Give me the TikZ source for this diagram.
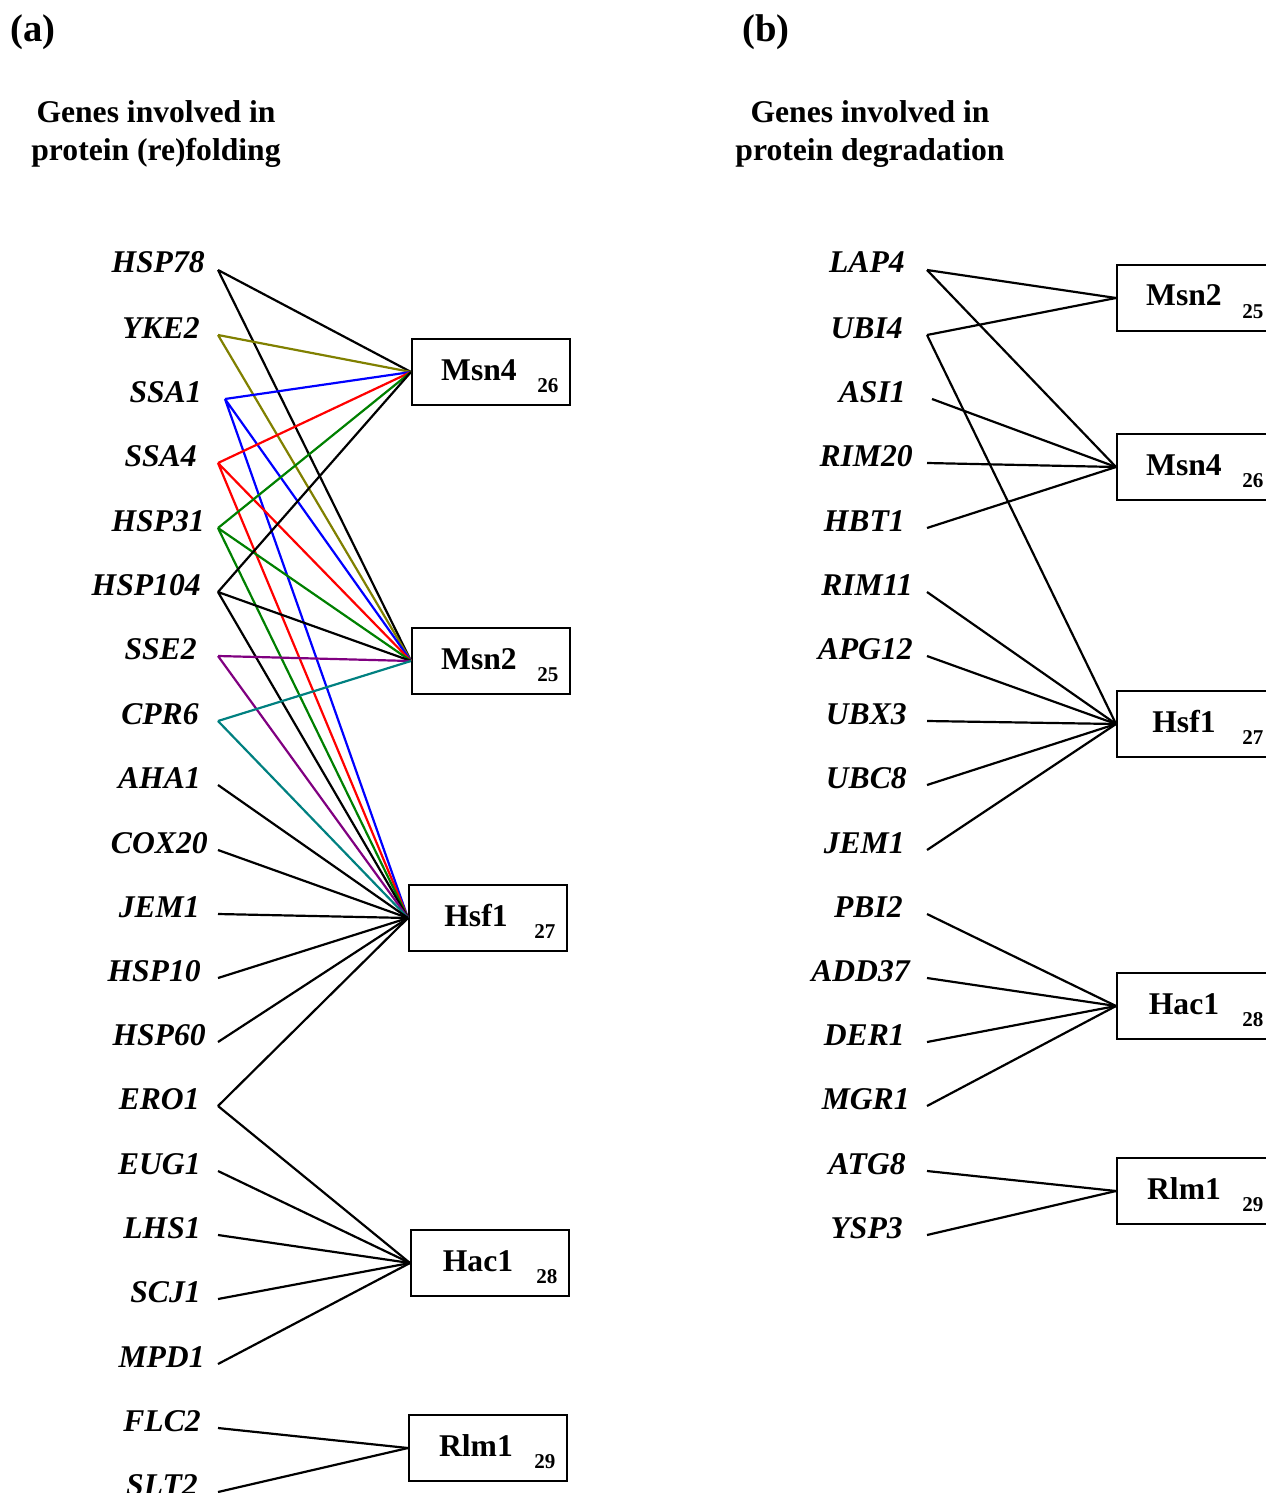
\documentclass[tikz,border=0pt]{standalone}
\usepackage{fontspec}
\setmainfont{Liberation Serif}
\usetikzlibrary{positioning}
\definecolor{lnolive}{RGB}{128,128,0}
\definecolor{lngreen}{RGB}{0,128,0}
\definecolor{lnpurple}{RGB}{128,0,128}
\definecolor{lnteal}{RGB}{0,128,128}
\tikzstyle{gene} = [font=\fontsize{18}{22}\selectfont\bfseries\itshape, inner sep=0pt]
\tikzstyle{tf} = [draw, line width=1.3pt, minimum width=3.16cm, minimum height=1.32cm, inner sep=0pt]
\tikzstyle{tfname} = [font=\fontsize{18}{22}\selectfont\bfseries, inner sep=0pt]
\tikzstyle{tfnum} = [font=\fontsize{12}{14}\selectfont\bfseries, inner sep=0pt]
\tikzstyle{heading} = [font=\fontsize{18}{22.1}\selectfont\bfseries, align=center, inner sep=0pt]
\tikzstyle{panel} = [font=\fontsize{22}{26}\selectfont\bfseries, inner sep=0pt]
\tikzstyle{link} = [line width=1.25pt]
% gene label and the point where its lines start
\newcommand{\gene}[5]{
  \node[gene, anchor=base east] (#1) at (#3,#5+11) {#2};
  \coordinate (#1-r) at (#4,#5+8);
}
% transcription factor box, given by its left middle point
\newcommand{\tfbox}[5]{
  \node[tf, anchor=west] (#1) at (#4,#5) {};
  \node[tfname, anchor=base] (#1-t) at (#4+68,#5+8) {#2};
  \node[tfnum, anchor=base west] (#1-n) at (#4+126,#5+20) {#3};
}
\begin{document}
\begin{tikzpicture}[x=0.02cm, y=-0.02cm]
  \useasboundingbox (0,0) rectangle (1265,1493);

  % (a) protein (re)folding
  \node[panel, anchor=base west] (pa) at (10,42) {(a)};
  \node[heading, anchor=base] (ha) at (156,161) {Genes involved in\\protein (re)folding};

  \gene{hsp78}{HSP78}{205}{218}{262}
  \gene{yke2}{YKE2}{200}{218}{327}
  \gene{ssa1}{SSA1}{202}{225}{391}
  \gene{ssa4}{SSA4}{197}{218}{455}
  \gene{hsp31}{HSP31}{205}{218}{520}
  \gene{hsp104}{HSP104}{201}{218}{584}
  \gene{sse2}{SSE2}{197}{218}{648}
  \gene{cpr6}{CPR6}{199}{218}{713}
  \gene{aha1}{AHA1}{201}{218}{777}
  \gene{cox20}{COX20}{208}{218}{842}
  \gene{jem1a}{JEM1}{200}{218}{906}
  \gene{hsp10}{HSP10}{201}{218}{970}
  \gene{hsp60}{HSP60}{206}{218}{1034}
  \gene{ero1}{ERO1}{200}{218}{1098}
  \gene{eug1}{EUG1}{201}{218}{1163}
  \gene{lhs1}{LHS1}{201}{218}{1227}
  \gene{scj1}{SCJ1}{201}{218}{1291}
  \gene{mpd1}{MPD1}{205}{218}{1356}
  \gene{flc2}{FLC2}{201}{218}{1420}
  \gene{slt2}{SLT2}{198}{218}{1484}

  \tfbox{msn4a}{Msn4}{26}{411}{372}
  \tfbox{msn2a}{Msn2}{25}{411}{661}
  \tfbox{hsf1a}{Hsf1}{27}{408}{918}
  \tfbox{hac1a}{Hac1}{28}{410}{1263}
  \tfbox{rlm1a}{Rlm1}{29}{408}{1448}

  \draw[link] (hsp78-r) -- (msn4a.west) (hsp78-r) -- (msn2a.west);
  \draw[link, lnolive] (yke2-r) -- (msn4a.west) (yke2-r) -- (msn2a.west);
  \draw[link, blue] (ssa1-r) -- (msn4a.west) (ssa1-r) -- (msn2a.west) (ssa1-r) -- (hsf1a.west);
  \draw[link, red] (ssa4-r) -- (msn4a.west) (ssa4-r) -- (msn2a.west) (ssa4-r) -- (hsf1a.west);
  \draw[link, lngreen] (hsp31-r) -- (msn4a.west) (hsp31-r) -- (msn2a.west) (hsp31-r) -- (hsf1a.west);
  \draw[link] (hsp104-r) -- (msn4a.west) (hsp104-r) -- (msn2a.west) (hsp104-r) -- (hsf1a.west);
  \draw[link, lnpurple] (sse2-r) -- (msn2a.west) (sse2-r) -- (hsf1a.west);
  \draw[link, lnteal] (cpr6-r) -- (msn2a.west) (cpr6-r) -- (hsf1a.west);
  \draw[link] (aha1-r) -- (hsf1a.west);
  \draw[link] (cox20-r) -- (hsf1a.west);
  \draw[link] (jem1a-r) -- (hsf1a.west);
  \draw[link] (hsp10-r) -- (hsf1a.west);
  \draw[link] (hsp60-r) -- (hsf1a.west);
  \draw[link] (ero1-r) -- (hsf1a.west) (ero1-r) -- (hac1a.west);
  \draw[link] (eug1-r) -- (hac1a.west);
  \draw[link] (lhs1-r) -- (hac1a.west);
  \draw[link] (scj1-r) -- (hac1a.west);
  \draw[link] (mpd1-r) -- (hac1a.west);
  \draw[link] (flc2-r) -- (rlm1a.west);
  \draw[link] (slt2-r) -- (rlm1a.west);

  % (b) protein degradation
  \node[panel, anchor=base west] (pb) at (742,42) {(b)};
  \node[heading, anchor=base] (hb) at (870,161) {Genes involved in\\protein degradation};

  \gene{lap4}{LAP4}{905}{927}{262}
  \gene{ubi4}{UBI4}{903}{927}{327}
  \gene{asi1}{ASI1}{906}{932}{391}
  \gene{rim20}{RIM20}{913}{927}{455}
  \gene{hbt1}{HBT1}{905}{927}{520}
  \gene{rim11}{RIM11}{913}{927}{584}
  \gene{apg12}{APG12}{913}{927}{648}
  \gene{ubx3}{UBX3}{907}{927}{713}
  \gene{ubc8}{UBC8}{907}{927}{777}
  \gene{jem1b}{JEM1}{905}{927}{842}
  \gene{pbi2}{PBI2}{903}{927}{906}
  \gene{add37}{ADD37}{910}{927}{970}
  \gene{der1}{DER1}{905}{927}{1034}
  \gene{mgr1}{MGR1}{910}{927}{1098}
  \gene{atg8}{ATG8}{906}{927}{1163}
  \gene{ysp3}{YSP3}{903}{927}{1227}

  \tfbox{msn2b}{Msn2}{25}{1116}{298}
  \tfbox{msn4b}{Msn4}{26}{1116}{467}
  \tfbox{hsf1b}{Hsf1}{27}{1116}{724}
  \tfbox{hac1b}{Hac1}{28}{1116}{1006}
  \tfbox{rlm1b}{Rlm1}{29}{1116}{1191}

  \draw[link] (lap4-r) -- (msn2b.west) (lap4-r) -- (msn4b.west);
  \draw[link] (ubi4-r) -- (msn2b.west) (ubi4-r) -- (hsf1b.west);
  \draw[link] (asi1-r) -- (msn4b.west);
  \draw[link] (rim20-r) -- (msn4b.west);
  \draw[link] (hbt1-r) -- (msn4b.west);
  \draw[link] (rim11-r) -- (hsf1b.west);
  \draw[link] (apg12-r) -- (hsf1b.west);
  \draw[link] (ubx3-r) -- (hsf1b.west);
  \draw[link] (ubc8-r) -- (hsf1b.west);
  \draw[link] (jem1b-r) -- (hsf1b.west);
  \draw[link] (pbi2-r) -- (hac1b.west);
  \draw[link] (add37-r) -- (hac1b.west);
  \draw[link] (der1-r) -- (hac1b.west);
  \draw[link] (mgr1-r) -- (hac1b.west);
  \draw[link] (atg8-r) -- (rlm1b.west);
  \draw[link] (ysp3-r) -- (rlm1b.west);
\end{tikzpicture}
\end{document}
